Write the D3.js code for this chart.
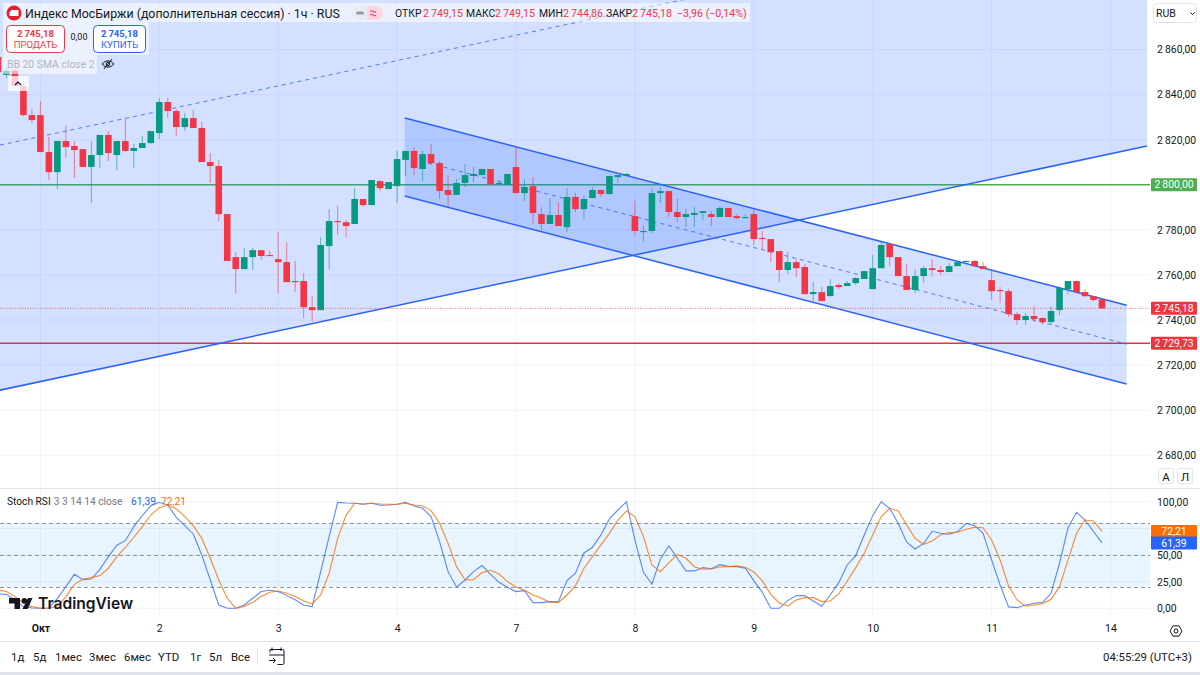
<!DOCTYPE html>
<html>
<head>
<meta charset="utf-8">
<script src="https://cdn.jsdelivr.net/npm/d3@7/dist/d3.min.js"></script>
<style>
  html, body { margin: 0; padding: 0; background: #fff; overflow: hidden; }
  svg { display: block; font-family: Roboto, "Noto Sans", sans-serif; }
  .axis path, .axis line { display: none; }
</style>
</head>
<body>
<svg width="1200" height="675"></svg>
<script>
// ---- DATA ----
const firstBar = -5; // five bars before the 1 Oct tick

const opens = [
  2856.7,2848.7,2850.5,2843.8,2830.9,
  2830.9,2814.5,2805.6,2819.4,2817.2,2815.8,2807.9,2813.2,2822.1,2813.2,2819.4,2815.0,2816.3,2818.5,
  2822.9,2836.7,2832.7,2825.6,2829.6,2825.2,2810.1,2808.3,2787.0,2767.9,2762.6,2767.9,2771.0,2768.8,
  2767.0,2765.7,2757.3,2757.3,2745.7,2744.4,2772.8,2783.9,2783.4,2782.6,2793.7,2791.0,2801.6,2798.1,
  2799.4,2811.0,2815.0,2807.0,2813.6,2809.6,2797.7,2795.5,2800.8,2803.9,2804.3,2807.0,2800.3,2799.9,
  2807.9,2796.3,2799.4,2787.0,2782.6,2786.6,2781.2,2794.6,2789.2,2794.1,2797.7,2795.9,2803.4,2803.9,
  2786.1,2779.0,2779.5,2796.3,2797.2,2787.9,2785.7,2786.6,2787.5,2787.0,2785.7,2789.7,2786.1,2785.2,
  2787.0,2776.4,2775.9,2770.6,2762.2,2765.7,2763.5,2751.5,2752.4,2750.6,2755.5,2755.1,2756.4,2758.2,
  2753.7,2763.0,2773.7,2767.9,2759.5,2753.3,2759.5,2763.0,2762.2,2761.3,2763.9,2765.7,2766.2,2763.9,
  2757.7,2753.3,2752.8,2742.6,2740.0,2741.8,2740.9,2739.1,2744.4,2753.7,2757.3,2752.4,2750.6,2749.15
];
const highs = [
  2857.6,2851.8,2851.3,2843.8,2833.6,
  2837.2,2821.2,2819.4,2826.1,2819.4,2815.8,2819.4,2822.1,2823.8,2819.4,2829.2,2818.1,2821.6,2823.8,
  2838.5,2838.5,2833.6,2831.8,2833.2,2827.8,2814.1,2811.0,2787.0,2770.1,2771.9,2771.9,2771.0,2770.6,
  2779.0,2774.6,2766.2,2760.8,2750.6,2776.8,2789.2,2790.6,2784.3,2798.6,2793.7,2802.1,2802.1,2801.2,
  2815.0,2815.0,2816.7,2815.0,2818.1,2810.5,2804.3,2802.5,2809.2,2807.9,2807.0,2807.0,2802.1,2804.8,
  2817.2,2802.5,2803.4,2790.1,2794.1,2792.3,2798.6,2796.3,2795.0,2799.0,2797.7,2803.9,2804.3,2805.2,
  2792.8,2782.1,2798.6,2799.0,2797.2,2793.7,2789.2,2790.1,2788.3,2788.3,2790.6,2789.7,2787.0,2787.0,
  2789.7,2779.5,2775.9,2770.6,2770.1,2767.0,2764.8,2756.8,2754.6,2758.2,2756.4,2757.3,2759.1,2761.7,
  2768.8,2775.0,2774.1,2767.9,2764.8,2762.6,2763.9,2767.0,2763.9,2765.3,2766.2,2766.6,2766.6,2765.7,
  2762.2,2754.6,2753.7,2743.5,2743.1,2746.2,2741.3,2746.2,2754.2,2757.3,2757.3,2753.7,2750.6,2749.15
];
const lows = [
  2849.1,2847.3,2843.8,2830.5,2827.4,
  2814.5,2802.1,2798.1,2811.9,2803.0,2807.9,2791.9,2807.4,2810.5,2806.5,2814.5,2807.4,2816.3,2818.1,
  2820.3,2829.6,2821.6,2823.8,2825.2,2810.1,2800.8,2783.9,2766.2,2752.0,2762.6,2762.2,2766.6,2768.4,
  2752.0,2756.8,2752.4,2740.9,2739.5,2744.4,2762.6,2777.7,2776.8,2782.6,2790.1,2791.0,2797.2,2798.1,
  2791.9,2803.9,2804.3,2801.6,2808.8,2793.7,2790.1,2795.5,2799.0,2801.2,2804.3,2799.4,2799.9,2799.9,
  2796.3,2792.8,2782.6,2779.9,2782.6,2781.7,2779.0,2787.9,2784.8,2794.1,2794.6,2795.5,2800.8,2803.9,
  2777.7,2774.6,2778.6,2791.9,2785.7,2783.5,2781.2,2781.2,2784.3,2781.7,2785.7,2785.7,2784.8,2785.2,
  2773.3,2771.5,2765.7,2756.8,2760.4,2759.0,2751.5,2748.4,2748.4,2750.6,2753.7,2755.1,2755.5,2758.2,
  2753.7,2763.0,2763.9,2759.5,2753.3,2752.0,2756.4,2759.5,2759.9,2761.3,2763.9,2765.7,2763.9,2762.6,
  2748.9,2747.5,2741.3,2737.8,2737.8,2739.1,2738.2,2737.8,2742.2,2751.5,2752.4,2750.2,2748.4,2744.86
];
const closes = [
  2850.0,2850.5,2843.8,2830.9,2828.7,
  2814.5,2805.6,2819.4,2816.7,2815.4,2807.9,2813.2,2822.1,2814.1,2819.4,2815.0,2816.3,2818.5,2823.8,
  2836.7,2832.7,2825.6,2829.6,2825.2,2810.1,2808.3,2787.0,2766.2,2762.6,2767.9,2771.0,2768.4,2768.4,
  2765.7,2756.8,2756.8,2745.7,2744.4,2773.3,2783.9,2783.4,2781.7,2793.7,2791.0,2802.1,2798.5,2801.2,
  2811.4,2815.0,2807.4,2813.6,2809.6,2797.2,2795.5,2800.8,2804.3,2804.8,2807.0,2800.3,2800.8,2804.8,
  2796.3,2799.0,2787.5,2782.6,2786.6,2781.7,2794.6,2789.2,2793.7,2797.7,2795.9,2803.9,2804.3,2804.8,
  2779.5,2779.5,2796.3,2797.2,2787.9,2785.7,2787.0,2787.5,2788.3,2785.7,2789.7,2785.7,2785.2,2785.7,
  2775.9,2775.9,2770.1,2762.2,2765.7,2763.0,2751.5,2752.4,2748.4,2755.1,2754.6,2756.4,2758.6,2761.7,
  2763.0,2773.3,2767.9,2759.5,2753.3,2759.5,2763.0,2762.2,2761.3,2763.9,2765.7,2766.2,2763.9,2762.6,
  2752.8,2752.8,2742.6,2740.0,2741.8,2740.4,2739.1,2744.0,2754.2,2757.3,2752.4,2750.6,2748.9,2745.18
];

const stochK = [
  13.5,13.1,7.8,1.6,0.3,
  0,0.3,9.4,20.3,31.9,26.9,27.5,36.6,48.5,59.2,63.5,76.7,87.0,96.4,
  99.5,97.0,85.4,77.6,69.8,50.1,26.6,3.1,0,0,3.1,9.4,15.7,16.9,
  15.7,11.9,8.1,2.8,1.6,34.4,67.3,99.5,98.9,98.6,97.7,98.6,96.7,97.0,
  97.7,99.5,96.1,93.9,86.1,62.6,34.4,20.0,26.6,34.4,40.1,31.9,24.4,19.7,
  15.7,16.6,5.3,5.3,6.3,6.3,26.0,32.9,52.0,57.3,68.9,83.9,92.3,100,
  64.2,33.8,22.8,46.3,58.5,47.0,35.1,35.1,38.2,37.2,41.0,39.4,39.1,37.6,
  26.0,15.0,0,0,7.2,11.9,11.9,6.9,1.9,12.5,24.1,40.7,49.5,68.9,
  87.0,100,93.9,79.8,62.0,55.7,61.0,72.3,70.4,69.5,72.0,79.8,77.6,70.4,
  45.4,21.9,1.3,0.6,3.1,4.7,5.6,14.1,42.3,75.7,90.1,82.9,72.0,61.39
];
const stochD = [
  17.2,15.7,11.0,4.7,1.6,
  0,0.3,1.6,11.0,22.5,27.2,28.8,30.7,37.6,48.5,57.3,66.7,76.7,87.6,
  94.5,97.0,93.3,86.1,77.6,65.7,47.0,26.6,9.4,0,1.6,5.6,11.0,15.0,
  16.3,14.1,11.0,6.9,4.1,12.5,32.9,65.7,87.6,98.6,98.0,98.6,98.0,97.7,
  97.7,98.6,97.0,96.1,91.7,79.8,61.0,39.1,26.6,26.9,33.5,35.7,32.2,25.0,
  20.0,16.9,12.5,9.4,5.6,5.6,12.5,21.3,37.6,48.5,59.5,70.4,82.9,91.4,
  86.1,67.3,40.7,34.4,42.9,50.7,47.0,39.1,36.6,36.9,38.8,39.1,39.8,38.5,
  34.1,25.7,13.1,5.0,2.2,7.8,10.0,10.0,6.3,6.9,13.5,25.7,38.2,51.6,
  68.9,86.1,93.9,91.4,78.3,65.7,60.1,63.2,68.9,71.1,71.4,74.2,76.1,75.7,
  64.2,45.4,21.0,7.8,1.9,3.1,4.4,8.5,20.3,45.4,70.4,82.9,82.0,72.21
];

const dayTicks = [0, 14, 28, 42, 56, 70, 84, 98, 112, 126];
const dayLabels = ["Окт", "2", "3", "4", "7", "8", "9", "10", "11", "14"];
const priceTicks = [2680, 2700, 2720, 2740, 2760, 2780, 2800, 2820, 2840, 2860];
const stochGrid = [0, 25, 50, 75, 100];
const stochTicks = [0, 25, 50, 100];
const stochBands = [80, 50, 20];

// trend channels: bar index of both ends, then price at both ends
const riseIdx = [-4.76, 130.3];
const riseLow = [2708.9, 2817.2];
const riseMid = [2817.6, 2925.9];
const riseUp = [2926.3, 3034.6];
const fallIdx = [42.9, 127.9];
const fallUp = [2829.6, 2746.6];
const fallMid = [2812.3, 2729.3];
const fallLow = [2795.0, 2711.6];

const lastPrice = 2745.18;
const support = 2729.73;
const resistance = 2800;

const ranges = ["1д", "5д", "1мес", "3мес", "6мес", "YTD", "1г", "5л", "Все"];
const rangeX = [11, 33, 55, 89, 124, 158, 190, 209, 231];
const ohlcNames = ["ОТКР", "МАКС", "МИН", "ЗАКР"];
const ohlcValues = [2749.15, 2749.15, 2744.86, 2745.18];
const ohlcNameX = [395, 466, 539, 606];
const ohlcValueX = [423, 495, 563, 632];

// ---- SCALES ----
const up = "#089981", down = "#f23645", blue = "#2962ff", orange = "#ff6d00";
const plotRight = 1150;

const x = d3.scaleLinear().domain([0, 126]).range([40.4, 1110.5]);
const y = d3.scaleLinear().domain([2860, 2680]).range([49.5, 455.3]);
const yS = d3.scaleLinear().domain([100, 0]).range([501.8, 608.3]);

const ru = d3.formatLocale({ decimal: ",", thousands: "\u2009", grouping: [3], currency: ["", ""] });
const fmt = ru.format(",.2f");

const svg = d3.select("svg");
const defs = svg.append("defs");
defs.append("clipPath").attr("id", "clipMain").append("rect")
  .attr("width", plotRight).attr("height", 488);
defs.append("clipPath").attr("id", "clipStoch").append("rect")
  .attr("y", 489).attr("width", plotRight).attr("height", 129);

const main = svg.append("g").attr("clip-path", "url(#clipMain)");
const stoch = svg.append("g").attr("clip-path", "url(#clipStoch)");

// ---- GRID ----
main.selectAll(".gy").data(priceTicks).join("line")
  .attr("x1", 0).attr("x2", plotRight)
  .attr("y1", d => y(d)).attr("y2", d => y(d))
  .attr("stroke", "#f0f3fa");
main.selectAll(".gx").data(dayTicks).join("line")
  .attr("x1", d => x(d)).attr("x2", d => x(d))
  .attr("y1", 0).attr("y2", 488)
  .attr("stroke", "#f0f3fa");
stoch.selectAll(".gy").data(stochGrid).join("line")
  .attr("x1", 0).attr("x2", plotRight)
  .attr("y1", d => yS(d)).attr("y2", d => yS(d))
  .attr("stroke", "#f0f3fa");
stoch.selectAll(".gx").data(dayTicks).join("line")
  .attr("x1", d => x(d)).attr("x2", d => x(d))
  .attr("y1", 489).attr("y2", 618)
  .attr("stroke", "#f0f3fa");

// ---- HORIZONTAL LEVELS (under the channel fill) ----
main.append("line").attr("x1", 0).attr("x2", plotRight)
  .attr("y1", y(resistance)).attr("y2", y(resistance))
  .attr("stroke", "#4caf50").attr("stroke-width", 1.5);
main.append("line").attr("x1", 0).attr("x2", plotRight)
  .attr("y1", y(support)).attr("y2", y(support))
  .attr("stroke", "#e8303f").attr("stroke-width", 1.4);

// ---- CHANNELS ----
const trend = idx => d3.line().x((d, i) => x(idx[i])).y(d => y(d));

function channelFill(idx, top, bottom) {
  const pts = [
    [idx[0], top[0]], [idx[1], top[1]],
    [idx[1], bottom[1]], [idx[0], bottom[0]]
  ];
  main.append("path")
    .attr("d", d3.line().x(d => x(d[0])).y(d => y(d[1]))(pts) + "Z")
    .attr("fill", blue).attr("fill-opacity", 0.2);
}
channelFill(riseIdx, riseUp, riseLow);
channelFill(fallIdx, fallUp, fallLow);

[[riseIdx, riseLow], [fallIdx, fallUp], [fallIdx, fallLow]].forEach(([idx, vals]) => {
  main.append("path").attr("d", trend(idx)(vals))
    .attr("fill", "none").attr("stroke", blue).attr("stroke-width", 1.5);
});
[[riseIdx, riseMid], [fallIdx, fallMid]].forEach(([idx, vals]) => {
  main.append("path").attr("d", trend(idx)(vals))
    .attr("fill", "none").attr("stroke", blue).attr("stroke-opacity", 0.8)
    .attr("stroke-width", 1).attr("stroke-dasharray", "4 4");
});

// ---- CANDLES ----
const candles = opens.map((o, i) => ({
  bar: firstBar + i, o, h: highs[i], l: lows[i], c: closes[i]
}));
const bodyW = 6.6;

main.selectAll(".wick").data(candles).join("line")
  .attr("x1", d => x(d.bar)).attr("x2", d => x(d.bar))
  .attr("y1", d => y(d.h)).attr("y2", d => y(d.l))
  .attr("stroke", d => d.c >= d.o ? up : down)
  .attr("stroke-opacity", 0.6);
main.selectAll(".body").data(candles).join("rect")
  .attr("x", d => x(d.bar) - bodyW / 2)
  .attr("width", bodyW)
  .attr("y", d => Math.min(y(d.o), y(d.c)))
  .attr("height", d => Math.max(1, Math.abs(y(d.o) - y(d.c))))
  .attr("fill", d => d.c >= d.o ? up : down);

main.append("line").attr("x1", 0).attr("x2", plotRight)
  .attr("y1", y(lastPrice)).attr("y2", y(lastPrice))
  .attr("stroke", down).attr("stroke-opacity", 0.7)
  .attr("stroke-dasharray", "1 1.5");

// ---- STOCH RSI PANE ----
stoch.append("rect").attr("x", 0).attr("width", plotRight)
  .attr("y", yS(80)).attr("height", yS(20) - yS(80))
  .attr("fill", "#2196f3").attr("fill-opacity", 0.1);
stoch.selectAll(".band").data(stochBands).join("line")
  .attr("x1", 0).attr("x2", plotRight)
  .attr("y1", d => yS(d)).attr("y2", d => yS(d))
  .attr("stroke", "#787b86").attr("stroke-opacity", 0.8)
  .attr("stroke-dasharray", "4 3").attr("shape-rendering", "crispEdges");

const stochLine = d3.line().x((d, i) => x(firstBar + i)).y(d => yS(d));
stoch.append("path").attr("d", stochLine(stochK))
  .attr("fill", "none").attr("stroke", blue).attr("stroke-opacity", 0.75).attr("stroke-width", 1.1);
stoch.append("path").attr("d", stochLine(stochD))
  .attr("fill", "none").attr("stroke", orange).attr("stroke-opacity", 0.8).attr("stroke-width", 1.1);

// ---- AXES ----
const axisFont = 10.4;
svg.append("g").attr("class", "axis")
  .attr("transform", "translate(1157,0)")
  .call(d3.axisRight(y).tickValues(priceTicks.filter(d => d !== resistance))
    .tickSize(0).tickPadding(0).tickFormat(fmt))
  .call(g => g.selectAll("text").attr("font-size", axisFont).attr("fill", "#131722").attr("font-family", "Roboto"));
svg.append("g").attr("class", "axis")
  .attr("transform", "translate(1157,0)")
  .call(d3.axisRight(yS).tickValues(stochTicks).tickSize(0).tickPadding(0).tickFormat(ru.format(".2f")))
  .call(g => g.selectAll("text").attr("font-size", axisFont).attr("fill", "#131722").attr("font-family", "Roboto"));
svg.append("g").attr("class", "axis")
  .attr("transform", "translate(0,622)")
  .call(d3.axisBottom(x).tickValues(dayTicks).tickSize(0).tickPadding(3)
    .tickFormat((d, i) => dayLabels[i]))
  .call(g => g.selectAll("text")
    .attr("font-size", 10.5).attr("font-family", "Roboto").attr("fill", "#131722")
    .attr("font-weight", (d, i) => i === 0 ? 700 : 400));

// price labels on the right
function priceTag(py, txt, fill) {
  svg.append("rect").attr("x", 1151).attr("y", py - 6.5).attr("width", 46).attr("height", 13)
    .attr("rx", 1).attr("fill", fill);
  svg.append("text").attr("x", 1174).attr("y", py + 3.6).attr("text-anchor", "middle")
    .attr("font-size", axisFont).attr("fill", "#fff").text(txt);
}
priceTag(y(resistance), fmt(resistance), "#4caf50");
priceTag(y(lastPrice), fmt(lastPrice), "#f7323f");
priceTag(y(support), fmt(support), "#f7323f");
priceTag(yS(72.21), ru.format(".2f")(72.21), orange);
priceTag(yS(61.39), ru.format(".2f")(61.39), blue);

// ---- SEPARATORS AND BOTTOM BAR ----
const sep = "#e0e3eb";
svg.append("line").attr("x1", 0).attr("x2", 1200).attr("y1", 488.5).attr("y2", 488.5).attr("stroke", sep);
svg.append("line").attr("x1", 0).attr("x2", 1200).attr("y1", 641.5).attr("y2", 641.5).attr("stroke", sep);
svg.append("rect").attr("y", 672).attr("width", 1200).attr("height", 3).attr("fill", sep);
svg.append("line").attr("x1", 257.5).attr("x2", 257.5).attr("y1", 648).attr("y2", 665).attr("stroke", sep);

svg.selectAll(".range").data(ranges).join("text")
  .attr("x", (d, i) => rangeX[i]).attr("y", 660.5)
  .attr("font-size", 11.4).attr("fill", "#131722").text(d => d);

svg.append("text").attr("x", 1192).attr("y", 660.5).attr("text-anchor", "end")
  .attr("font-size", 11.4).attr("fill", "#131722").text("04:55:29 (UTC+3)");

// calendar icon
svg.append("path")
  .attr("d", "M270 652.5v-3h12.5a1.5 1.5 0 0 1 1.5 1.5v12a1.5 1.5 0 0 1-1.5 1.5h-5M269 655h15M272 647.5v3.5M281 647.5v3.5M269 660.5h6M273 658l2.5 2.5L273 663")
  .attr("fill", "none").attr("stroke", "#131722");

// settings hexagon
svg.append("path")
  .attr("d", "M1170 631l3-5.2h6l3 5.2-3 5.2h-6z")
  .attr("fill", "none").attr("stroke", "#131722");
svg.append("circle").attr("cx", 1176).attr("cy", 631).attr("r", 2)
  .attr("fill", "none").attr("stroke", "#131722");

// ---- RUB, A / Л BUTTONS ----
svg.append("rect").attr("x", 1153.5).attr("y", 3.5).attr("width", 43).attr("height", 19).attr("rx", 3)
  .attr("fill", "#fff").attr("stroke", sep);
svg.append("text").attr("x", 1156).attr("y", 17).attr("font-size", 10.5).attr("fill", "#131722").text("RUB");
svg.append("path").attr("d", "M1190.5 12.5l2 2 2-2").attr("fill", "none").attr("stroke", "#131722");

[["А", 1158.5], ["Л", 1177.5]].forEach(([t, bx]) => {
  svg.append("rect").attr("x", bx).attr("y", 468.5).attr("width", 15).attr("height", 15).attr("rx", 2)
    .attr("fill", "#fff").attr("stroke", sep);
  svg.append("text").attr("x", bx + 7.5).attr("y", 480.5).attr("text-anchor", "middle")
    .attr("font-size", 11.5).attr("fill", "#131722").text(t);
});

// ---- LEGEND OVERLAYS ----
const veil = (vx, vy, w, h) => svg.append("rect").attr("x", vx).attr("y", vy)
  .attr("width", w).attr("height", h).attr("fill", "#fff").attr("fill-opacity", 0.55);
veil(3, 3, 747, 19);
veil(3, 22, 146, 33);
veil(3, 55, 94, 19);

svg.append("circle").attr("cx", 14).attr("cy", 13).attr("r", 7.5).attr("fill", "#e8202a");
svg.append("path").attr("d", "M9.5 12.5l2-2.5h7v6h-9z").attr("fill", "#fff");

svg.append("text").attr("x", 25).attr("y", 17.5).attr("font-size", 12.35).attr("fill", "#131722")
  .text("Индекс МосБиржи (дополнительная сессия) · 1ч · RUS");

// market status pill
svg.append("rect").attr("x", 352).attr("y", 6).attr("width", 31).attr("height", 14).attr("rx", 7).attr("fill", "#e9ebf0");
svg.append("path").attr("d", "M367 6h9a7 7 0 0 1 0 14h-9z").attr("fill", "#fbd5df");
svg.append("rect").attr("x", 356).attr("y", 11.5).attr("width", 8).attr("height", 3).attr("rx", 1.5).attr("fill", "#9598a1");
svg.append("path").attr("d", "M370 11.5q1.5-1.5 3 0t3 0M370 15q1.5-1.5 3 0t3 0")
  .attr("fill", "none").attr("stroke", "#e0457b").attr("stroke-width", 1.1);

svg.selectAll(".ohlcName").data(ohlcNames).join("text")
  .attr("x", (d, i) => ohlcNameX[i]).attr("y", 17)
  .attr("font-size", 10.4).attr("fill", "#131722").text(d => d);
svg.selectAll(".ohlcVal").data(ohlcValues).join("text")
  .attr("x", (d, i) => ohlcValueX[i]).attr("y", 17)
  .attr("font-size", 10.6).attr("fill", down).text(d => fmt(d));
svg.append("text").attr("x", 677).attr("y", 17).attr("font-size", 10.6).attr("fill", down)
  .text("−3,96 (−0,14%)");

// trade buttons
function tradeBtn(bx, w, color, label) {
  svg.append("rect").attr("x", bx).attr("y", 25.5).attr("width", w).attr("height", 27).attr("rx", 4)
    .attr("fill", "#fff").attr("stroke", color);
  svg.append("text").attr("x", bx + w / 2).attr("y", 37).attr("text-anchor", "middle")
    .attr("font-size", 9.5).attr("font-weight", 700).attr("fill", color).text(fmt(lastPrice));
  svg.append("text").attr("x", bx + w / 2).attr("y", 48).attr("text-anchor", "middle")
    .attr("font-size", 9.5).attr("fill", color).text(label);
}
tradeBtn(6.5, 58, down, "ПРОДАТЬ");
tradeBtn(93.5, 52, blue, "КУПИТЬ");
svg.append("text").attr("x", 79).attr("y", 40).attr("text-anchor", "middle")
  .attr("font-size", 9).attr("fill", "#131722").text("0,00");

// hidden BB legend
svg.append("text").attr("x", 7).attr("y", 68).attr("font-size", 10.4).attr("fill", "#b2b5be")
  .text("BB 20 SMA close 2");
svg.append("path").attr("d", "M102 64q6-6.5 12 0q-6 6.5-12 0zM104 69l8-10")
  .attr("fill", "none").attr("stroke", "#131722");
svg.append("circle").attr("cx", 108).attr("cy", 64).attr("r", 1.8)
  .attr("fill", "none").attr("stroke", "#131722");

// collapse button
svg.append("rect").attr("x", 8).attr("y", 76).attr("width", 21).attr("height", 15).attr("rx", 2)
  .attr("fill", "#fff").attr("fill-opacity", 0.75);
svg.append("path").attr("d", "M15 85l3-3 3 3").attr("fill", "none").attr("stroke", "#131722").attr("stroke-width", 1.2);

// stoch legend
const stochLegend = svg.append("text").attr("x", 7).attr("y", 505).attr("font-size", 10.2);
stochLegend.append("tspan").attr("fill", "#131722").text("Stoch RSI");
stochLegend.append("tspan").attr("dx", 3).attr("fill", "#787b86").text("3 3 14 14 close");
svg.append("text").attr("x", 131).attr("y", 505).attr("font-size", 10.2).attr("fill", blue)
  .text(ru.format(".2f")(61.39));
svg.append("text").attr("x", 161).attr("y", 505).attr("font-size", 10.2).attr("fill", orange)
  .text(ru.format(".2f")(72.21));

// TradingView watermark
const logo = svg.append("g").attr("transform", "translate(9,598)");
logo.append("path").attr("d", "M0 0h11v11h-5.5v-5.5h-5.5z").attr("fill", "#131722");
logo.append("circle").attr("cx", 15.3).attr("cy", 2.8).attr("r", 2.8).attr("fill", "#131722");
logo.append("path").attr("d", "M19 0h4.5l-4.8 11h-5.2z").attr("fill", "#131722");
svg.append("text").attr("x", 38).attr("y", 609).attr("font-size", 15.6).attr("font-weight", 600)
  .attr("font-family", "Inter").attr("fill", "#131722").text("TradingView");
</script>
</body>
</html>
